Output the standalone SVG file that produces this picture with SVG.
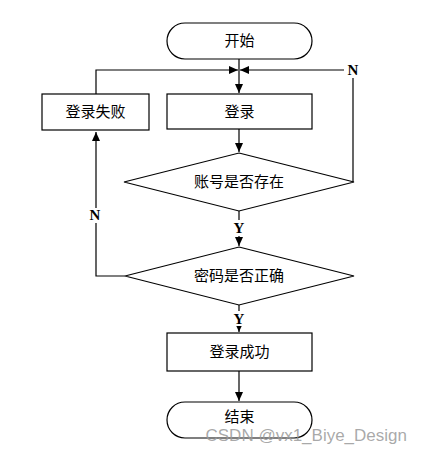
<svg xmlns="http://www.w3.org/2000/svg" width="422" height="449" viewBox="0 0 422 449">
<defs>
<marker id="ah" markerWidth="10" markerHeight="10" refX="9" refY="4" orient="auto" markerUnits="userSpaceOnUse">
<path d="M0,0 L9,4 L0,8 Z" fill="#000"/>
</marker>
<style>
.s{fill:#fff;stroke:#000;stroke-width:1.2}
.c{fill:none;stroke:#000;stroke-width:1.2}
.t{font-family:"Noto Sans CJK SC",sans-serif;font-size:15px;text-anchor:middle;fill:#000}
.l{font-family:"Liberation Serif",serif;font-size:15px;font-weight:bold;text-anchor:middle;fill:#000}
</style>
</defs>
<rect width="422" height="449" fill="#fff"/>
<g id="connectors">
<path class="c" d="M239,59 V93" marker-end="url(#ah)"/>
<path class="c" d="M96,94 V70 H238" marker-end="url(#ah)"/>
<path class="c" d="M353,182 V70 H240" marker-end="url(#ah)"/>
<path class="c" d="M239,129 V152" marker-end="url(#ah)"/>
<path class="c" d="M239,211 V246" marker-end="url(#ah)"/>
<path class="c" d="M125,276 H96 V132" marker-end="url(#ah)"/>
<path class="c" d="M239,305 V332" marker-end="url(#ah)"/>
<path class="c" d="M239,371 V401" marker-end="url(#ah)"/>
<rect x="344" y="63" width="18" height="15" fill="#fff"/>
<text class="l" x="353" y="75">N</text>
<rect x="230" y="220" width="18" height="16" fill="#fff"/>
<text class="l" x="239" y="233">Y</text>
<rect x="86" y="208" width="18" height="15" fill="#fff"/>
<text class="l" x="95" y="220">N</text>
<rect x="230" y="311" width="18" height="15" fill="#fff"/>
<text class="l" x="239" y="324">Y</text>
</g>
<g id="start">
<rect class="s" x="167" y="23" width="145" height="36" rx="18"/>
<text class="t" x="239.5" y="46">开始</text>
</g>
<g id="login">
<rect class="s" x="167" y="94" width="145" height="35"/>
<text class="t" x="239.5" y="117">登录</text>
</g>
<g id="loginFail">
<rect class="s" x="42" y="94" width="107" height="36"/>
<text class="t" x="95.5" y="117">登录失败</text>
</g>
<g id="checkAccount">
<polygon class="s" points="239,153 354,182 239,211 124,182"/>
<text class="t" x="239" y="187">账号是否存在</text>
</g>
<g id="checkPassword">
<polygon class="s" points="239,247 354,276 239,305 125,276"/>
<text class="t" x="239" y="281">密码是否正确</text>
</g>
<g id="loginSuccess">
<rect class="s" x="167" y="333" width="145" height="38"/>
<text class="t" x="239.5" y="357">登录成功</text>
</g>
<g id="end">
<rect class="s" x="167" y="402" width="145" height="36" rx="18"/>
<text class="t" x="239.5" y="422">结束</text>
</g>
<text x="407" y="441" font-family="Liberation Sans,sans-serif" font-size="17" fill="#9a9a9a" fill-opacity="0.85" text-anchor="end">CSDN @vx1_Biye_Design</text>
</svg>
